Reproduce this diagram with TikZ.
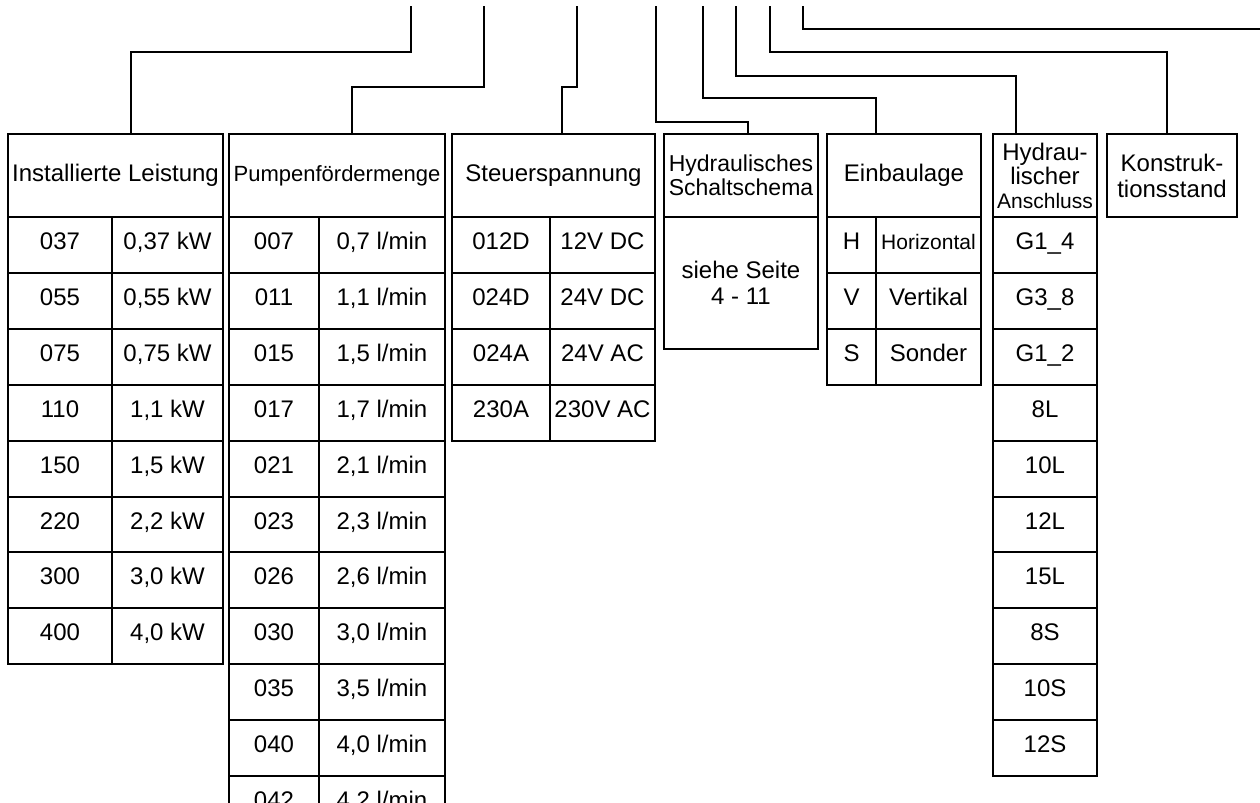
\documentclass[tikz,border=0pt]{standalone}
\usepackage{fontspec}
\setmainfont{Liberation Sans}

\tikzset{
  cellbox/.style={draw, line width=1pt, inner sep=0pt, minimum height=27.95pt,
    font=\fontsize{12}{13}\selectfont},
  cell/.style={cellbox, text height=8.6pt, text depth=4pt},
  headbox/.style={draw, line width=1pt, inner sep=0pt, minimum height=41.5pt,
    align=center, font=\fontsize{12}{13}\selectfont},
  wire/.style={line width=1pt},
}

\begin{document}
\begin{tikzpicture}[x=0.5pt,y=-0.5pt]
  \useasboundingbox (0,0) rectangle (1260,803);
  \clip (0,0) rectangle (1260,803);
  \fill[white] (0,0) rectangle (1260,803);

  \node[anchor=base west, inner sep=0pt, font=\fontsize{12}{14}\selectfont\bfseries] (title) at (20,-4.5) {Typ};

  % header boxes
  \node[headbox, minimum width=107.5pt] (hInst) at (115.5,175.5) {Installierte Leistung};
  \node[headbox, minimum width=108pt, font=\fontsize{11}{13}\selectfont] (hPump) at (337,175.5) {Pumpenfördermenge};
  \node[headbox, minimum width=101.5pt] (hSteu) at (553.5,175.5) {Steuerspannung};
  \node[headbox, minimum width=77pt, font=\fontsize{11.5}{12}\selectfont] (hHyd) at (741,175.5) {Hydraulisches\\Schaltschema};
  \node[headbox, minimum width=77pt] (hEin) at (904,175.5) {Einbaulage};
  \node[headbox, minimum width=52pt, font=\fontsize{12}{12}\selectfont] (hAns) at (1045,175.5)
    {Hydrau-\\lischer\\{\fontsize{10.5}{12}\selectfont Anschluss}};
  \node[headbox, minimum width=65pt] (hKon) at (1172,175.5) {Konstruk-\\tionsstand};

  % rows
  \foreach \code/\val [count=\r from 0] in {037/{0,37 kW},055/{0,55 kW},075/{0,75 kW},110/{1,1 kW},
      150/{1,5 kW},220/{2,2 kW},300/{3,0 kW},400/{4,0 kW}} {
    \node[cell, minimum width=52pt] (inA\r) at (60,{244.95+55.9*\r}) {\code};
    \node[cell, minimum width=55.5pt] (inB\r) at (167.5,{244.95+55.9*\r}) {\val};
  }
  \foreach \code/\val [count=\r from 0] in {007/{0,7 l/min},011/{1,1 l/min},015/{1,5 l/min},017/{1,7 l/min},
      021/{2,1 l/min},023/{2,3 l/min},026/{2,6 l/min},030/{3,0 l/min},035/{3,5 l/min},040/{4,0 l/min},
      042/{4,2 l/min}} {
    \node[cell, minimum width=45pt] (puA\r) at (274,{244.95+55.9*\r}) {\code};
    \node[cell, minimum width=63pt] (puB\r) at (382,{244.95+55.9*\r}) {\val};
  }
  \foreach \code/\val [count=\r from 0] in {012D/12V DC,024D/24V DC,024A/24V AC,230A/230V AC} {
    \node[cell, minimum width=49pt] (stA\r) at (501,{244.95+55.9*\r}) {\code};
    \node[cell, minimum width=52.5pt] (stB\r) at (602.5,{244.95+55.9*\r}) {\val};
  }
  \node[cellbox, minimum width=77pt, minimum height=66pt, align=center] (hyd) at (741,283) {siehe Seite\\4 - 11};
  \foreach \code/\val [count=\r from 0] in {H/{\fontsize{10.5}{12}\selectfont Horizontal},V/Vertikal,S/Sonder} {
    \node[cell, minimum width=24.5pt] (eiA\r) at (851.5,{244.95+55.9*\r}) {\code};
    \node[cell, minimum width=52.5pt] (eiB\r) at (928.5,{244.95+55.9*\r}) {\val};
  }
  \foreach \val [count=\r from 0] in {G1\_4,G3\_8,G1\_2,8L,10L,12L,15L,8S,10S,12S} {
    \node[cell, minimum width=52pt] (an\r) at (1045,{244.95+55.9*\r}) {\val};
  }

  % connectors
  \foreach \i/\tx/\kx/\ky/\dest in {1/411/131/52/hInst,2/484/352/87/hPump,3/577/562/87/hSteu,
      4/656/748/122/hHyd,5/703/876/98/hEin,6/736/1016/76/hAns,7/770/1167/52/hKon} {
    \coordinate (t\i) at (\tx,6);
    \draw[wire] (t\i) |- (\kx,\ky) -- (\kx,\ky |- \dest.north);
  }
  \coordinate (t8) at (803,6);
  \coordinate (k8) at (1264,29);
  \draw[wire] (t8) |- (k8);
\end{tikzpicture}
\end{document}
